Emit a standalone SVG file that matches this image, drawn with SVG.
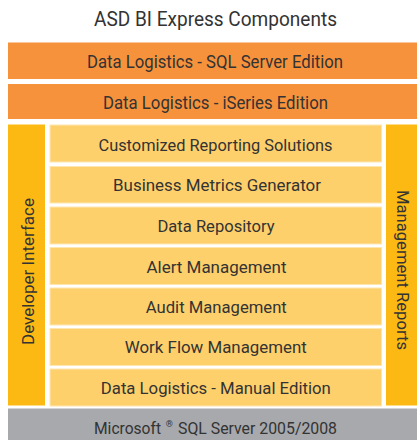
<svg xmlns="http://www.w3.org/2000/svg" width="417" height="440" viewBox="0 0 417 440">
<style>
text{font-family:Roboto,"Liberation Sans",sans-serif;fill:#333;text-anchor:middle}
.band{fill:#f7923c}
.side{fill:#fdb913}
.box{fill:#fed06c;stroke:#fee6b0;stroke-width:1}
.gray{fill:#a7a9ac}
.t{font-size:16.5px}
.bt{font-size:18px}
</style>
<rect width="417" height="440" fill="#ffffff"/>
<text x="215.5" y="26" font-size="20" textLength="243" lengthAdjust="spacingAndGlyphs">ASD BI Express Components</text>
<g id="sql-edition">
<rect class="band" x="8" y="42.5" width="409" height="36.5"/>
<text class="bt" x="215" y="67.7" textLength="256" lengthAdjust="spacingAndGlyphs">Data Logistics - SQL Server Edition</text>
</g>
<g id="iseries-edition">
<rect class="band" x="8" y="84" width="409" height="35"/>
<text class="bt" x="215.5" y="108.7" textLength="225" lengthAdjust="spacingAndGlyphs">Data Logistics - iSeries Edition</text>
</g>
<g id="developer-interface">
<rect class="side" x="8" y="124.5" width="37" height="281"/>
<text transform="translate(33.5,271.5) rotate(-90)" font-size="17" textLength="147" lengthAdjust="spacingAndGlyphs">Developer Interface</text>
</g>
<g id="management-reports">
<rect class="side" x="386" y="124.5" width="31" height="281"/>
<text transform="translate(396.5,270) rotate(90)" font-size="16" textLength="160" lengthAdjust="spacingAndGlyphs">Management Reports</text>
</g>
<g id="customized-reporting">
<rect class="box" x="50" y="125" width="331.5" height="37"/>
<text class="t" x="215.5" y="150.7" textLength="234" lengthAdjust="spacingAndGlyphs">Customized Reporting Solutions</text>
</g>
<g id="business-metrics">
<rect class="box" x="50" y="166.5" width="331.5" height="36.5"/>
<text class="t" x="217" y="190.7" textLength="208" lengthAdjust="spacingAndGlyphs">Business Metrics Generator</text>
</g>
<g id="data-repository">
<rect class="box" x="50" y="207" width="331.5" height="37"/>
<text class="t" x="216" y="231.7" textLength="117" lengthAdjust="spacingAndGlyphs">Data Repository</text>
</g>
<g id="alert-management">
<rect class="box" x="50" y="247.5" width="331.5" height="37"/>
<text class="t" x="216.5" y="272.5" textLength="140" lengthAdjust="spacingAndGlyphs">Alert Management</text>
</g>
<g id="audit-management">
<rect class="box" x="50" y="288" width="331.5" height="37"/>
<text class="t" x="216.3" y="312.7" textLength="141" lengthAdjust="spacingAndGlyphs">Audit Management</text>
</g>
<g id="work-flow-management">
<rect class="box" x="50" y="328.5" width="331.5" height="37"/>
<text class="t" x="215.8" y="353" textLength="182" lengthAdjust="spacingAndGlyphs">Work Flow Management</text>
</g>
<g id="manual-edition">
<rect class="box" x="50" y="369" width="331.5" height="37"/>
<text class="t" x="215.8" y="394" textLength="230" lengthAdjust="spacingAndGlyphs">Data Logistics - Manual Edition</text>
</g>
<g id="sql-server">
<rect class="gray" x="8" y="408.5" width="409" height="31.5"/>
<text x="127.5" y="434" font-size="17" textLength="67" lengthAdjust="spacingAndGlyphs">Microsoft</text>
<text x="169.2" y="427" font-size="9">®</text>
<text x="257.5" y="434" font-size="17" textLength="159" lengthAdjust="spacingAndGlyphs">SQL Server 2005/2008</text>
</g>
<g id="connectors"></g>
</svg>
